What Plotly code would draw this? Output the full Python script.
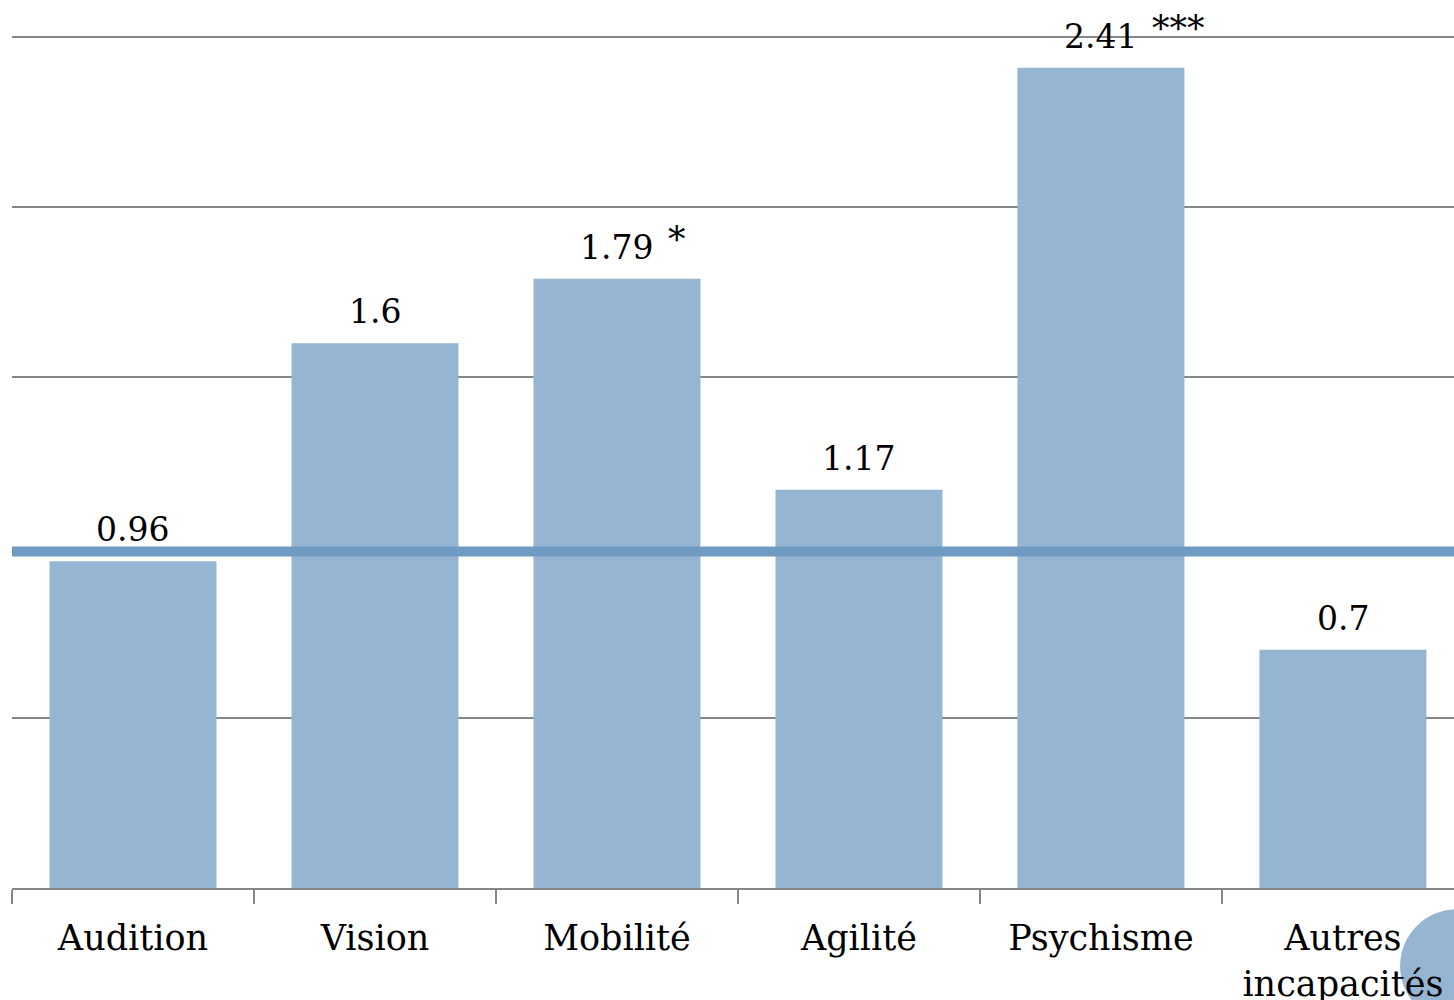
import plotly.graph_objects as go

categories = ["Audition", "Vision", "Mobilité", "Agilité", "Psychisme", "Autres<br>incapacités"]
values = [0.96, 1.6, 1.79, 1.17, 2.41, 0.7]
value_labels = ["0.96", "1.6", "1.79", "1.17", "2.41", "0.7"]
significance = ["", "", "*", "", "***", ""]
reference_level = 1.0
y_max = 2.5

FONT = "DejaVu Serif"
BAR_COLOR = "#95B5D3"
LINE_COLOR = "#6F9AC1"
GRID_COLOR = "#878787"
LABEL_SIZE = 33
STAR_SIZE = 35
TICK_SIZE = 35


def label_half_width(text, size):
    # approximate advance widths for DejaVu Serif digits and the period
    w = sum(0.318 if ch == "." else 0.636 for ch in text)
    return w * size / 2


fig = go.Figure(
    go.Bar(
        x=categories,
        y=values,
        marker=dict(color=BAR_COLOR, line=dict(width=0)),
        hoverinfo="skip",
    )
)

# value labels above each bar, with significance stars raised to their right
for cat, val, lab, sig in zip(categories, values, value_labels, significance):
    fig.add_annotation(
        x=cat, y=val, text=lab, showarrow=False,
        xanchor="center", yanchor="bottom", yshift=10,
        font=dict(family=FONT, size=LABEL_SIZE, color="#000000"),
    )
    if sig:
        fig.add_annotation(
            x=cat, y=val, text=sig, showarrow=False,
            xanchor="left", yanchor="bottom", yshift=17,
            xshift=label_half_width(lab, LABEL_SIZE) + 12,
            font=dict(family=FONT, size=STAR_SIZE, color="#000000"),
        )

# top gridline sits on the upper edge of the plotting area
fig.add_shape(
    type="line", xref="paper", yref="paper",
    x0=0, x1=1, y0=1, y1=1,
    line=dict(color=GRID_COLOR, width=2), layer="below",
)

# reference line at odds ratio = 1
fig.add_shape(
    type="line", xref="paper", yref="y", ysizemode="pixel", yanchor=reference_level,
    x0=0, x1=1, y0=-4, y1=-4,
    line=dict(color=LINE_COLOR, width=10), layer="above",
)

# decorative disc in the lower-right corner, behind the tick labels
fig.add_shape(
    type="circle", xref="paper", yref="paper",
    x0=0.9626, x1=1.043, y0=-0.0247, y1=-0.1586,
    fillcolor=BAR_COLOR, line=dict(width=0), layer="below",
)

fig.update_layout(
    width=1454, height=1000,
    margin=dict(l=12, r=0, t=37, b=112),
    paper_bgcolor="white", plot_bgcolor="white",
    bargap=0.31,
    showlegend=False,
    font=dict(family=FONT, size=LABEL_SIZE, color="#000000"),
)
fig.update_xaxes(
    type="category",
    range=[-0.5, 5.459],
    automargin=False,
    tickson="boundaries", ticks="outside", ticklen=14, tickwidth=2, tickcolor=GRID_COLOR,
    ticklabelstandoff=18,
    showline=True, linecolor=GRID_COLOR, linewidth=2,
    showgrid=False, tickfont=dict(family=FONT, size=TICK_SIZE, color="#000000"),
)
fig.update_yaxes(
    range=[0, y_max], dtick=0.5, showticklabels=False,
    automargin=False,
    showgrid=True, gridcolor=GRID_COLOR, gridwidth=2,
    zeroline=False, showline=False,
)

fig.write_html("out.html")
